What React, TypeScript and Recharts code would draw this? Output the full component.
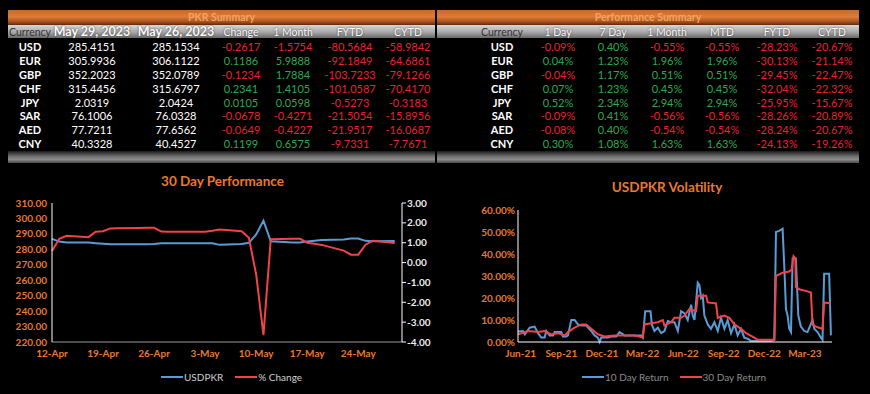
import React from "react";
import { LineChart, Line, XAxis, YAxis, Legend } from "recharts";

// ---- tables ----
const currencies = ["USD", "EUR", "GBP", "CHF", "JPY", "SAR", "AED", "CNY"];

const pkrHeaders = ["Currency", "May 29, 2023", "May 26, 2023", "Change", "1 Month", "FYTD", "CYTD"];
const rateMay29 = [285.4151, 305.9936, 352.2023, 315.4456, 2.0319, 76.1006, 77.7211, 40.3328];
const rateMay26 = [285.1534, 306.1122, 352.0789, 315.6797, 2.0424, 76.0328, 77.6562, 40.4527];
const pkrChange = [-0.2617, 0.1186, -0.1234, 0.2341, 0.0105, -0.0678, -0.0649, 0.1199];
const pkr1Month = [-1.5754, 5.9888, 1.7884, 1.4105, 0.0598, -0.4271, -0.4227, 0.6575];
const pkrFytd = [-80.5684, -92.1849, -103.7233, -101.0587, -0.5273, -21.5054, -21.9517, -9.7331];
const pkrCytd = [-58.9842, -64.6861, -79.1266, -70.417, -0.3183, -15.8956, -16.0687, -7.7671];

const perfHeaders = ["Currency", "1 Day", "7 Day", "1 Month", "MTD", "FYTD", "CYTD"];
const perf1Day = [-0.09, 0.04, -0.04, 0.07, 0.52, -0.09, -0.08, 0.3];
const perf7Day = [0.4, 1.23, 1.17, 1.23, 2.34, 0.41, 0.4, 1.08];
const perf1Month = [-0.55, 1.96, 0.51, 0.45, 2.94, -0.56, -0.54, 1.63];
const perfMtd = [-0.55, 1.96, 0.51, 0.45, 2.94, -0.56, -0.54, 1.63];
const perfFytd = [-28.23, -30.13, -29.45, -32.04, -25.95, -28.26, -28.24, -24.13];
const perfCytd = [-20.67, -21.14, -22.47, -22.32, -15.67, -20.89, -20.67, -19.26];

// ---- 30 day performance (day offset from 12-Apr) ----
const perfDays = [0, 1, 2, 5, 6, 7, 8, 9, 12, 13, 14, 15, 16, 19, 20, 21, 22, 23, 26, 27, 28, 29, 30, 33, 34, 35, 36, 37, 40, 41, 42, 43, 44, 47];
const usdPkr = [286.8, 285.0, 284.4, 284.4, 284.0, 283.6, 283.3, 283.3, 283.3, 283.3, 283.4, 284.0, 284.0, 284.0, 284.0, 284.0, 284.0, 282.9, 283.5, 284.2, 289.7, 298.5, 285.2, 284.5, 284.5, 285.0, 285.6, 286.0, 286.4, 287.0, 287.0, 285.5, 285.2, 285.4];
const pctChange = [0.58, 1.2, 1.35, 1.28, 1.55, 1.58, 1.72, 1.73, 1.74, 1.75, 1.75, 1.56, 1.55, 1.55, 1.55, 1.55, 1.6, 1.67, 1.58, 1.25, -0.6, -3.65, 1.17, 1.2, 1.2, 1.0, 0.95, 0.89, 0.6, 0.4, 0.4, 0.9, 1.1, 0.98];
const perfTickDays = [0, 7, 14, 21, 28, 35, 42];
const perfTickLabels = ["12-Apr", "19-Apr", "26-Apr", "3-May", "10-May", "17-May", "24-May"];

// ---- volatility (month offset from Jun-21) ----
const vol10Months = [-0.2, 0.17, 0.3, 0.66, 1.03, 1.28, 1.52, 1.77, 1.89, 2.14, 2.39, 2.51, 3.0, 3.12, 3.37, 3.49, 3.74, 3.98, 4.23, 4.48, 4.84, 5.21, 5.46, 5.7, 5.83, 5.95, 6.44, 6.69, 7.06, 7.3, 7.67, 8.9, 9.02, 9.2, 9.59, 9.69, 9.88, 10.13, 10.38, 10.62, 10.87, 11.11, 11.36, 11.61, 11.85, 12.1, 12.34, 12.59, 12.71, 12.84, 13.08, 13.2, 13.33, 13.45, 13.57, 13.82, 14.06, 14.31, 14.56, 14.8, 15.05, 15.29, 15.54, 15.79, 16.03, 16.28, 16.52, 16.77, 17.01, 18.49, 18.74, 18.86, 19.1, 19.35, 19.47, 19.6, 19.72, 19.84, 19.97, 20.09, 20.33, 20.51, 20.7, 20.95, 21.19, 21.56, 21.69, 21.93, 22.18, 22.3, 22.42, 22.79, 22.92];
const vol10Values = [4.8, 5, 3.5, 6.5, 7, 4, 2, 2, 5, 3, 3, 4.5, 4.5, 2.5, 2.5, 3, 10, 10, 8, 7.5, 7.5, 5, 3, 2, 0, 2, 2, 2.5, 2.5, 4.5, 3, 3, 2, 14, 14, 8, 5, 6.5, 4, 5, 9.5, 9, 9, 5, 14, 13, 10, 17, 12, 10, 27, 26, 20, 21, 12, 8, 6, 9, 5, 11, 6, 10, 4, 8, 3, 6, 2, 1.5, 0.5, 0.5, 1, 50, 50.5, 51.5, 35, 15, 12, 6, 4.5, 38, 38, 12, 7, 5, 4.5, 10, 6, 4.5, 2, 1, 31, 31, 3];
const vol30Months = [-0.2, 0.54, 1.28, 1.77, 2.26, 2.75, 3.25, 3.49, 3.98, 4.48, 4.84, 5.21, 5.7, 6.2, 6.93, 8.41, 9.02, 9.15, 9.64, 10.13, 10.5, 10.62, 11.11, 11.36, 11.85, 12.1, 12.47, 12.96, 13.08, 13.7, 13.82, 14.43, 14.56, 15.05, 15.42, 15.79, 16.28, 16.65, 17.26, 17.51, 18.74, 18.86, 19.35, 19.84, 20.02, 20.16, 20.29, 20.33, 20.58, 21.19, 21.44, 21.56, 21.81, 22.06, 22.3, 22.42, 22.92];
const vol30Values = [3.5, 5, 4.5, 5, 3.5, 4, 3, 4.5, 6.5, 8, 8, 6, 3.5, 2.5, 3, 3, 2, 8, 8.5, 9, 10, 7.5, 9, 11, 11, 12, 15, 14, 21, 21, 18, 17.5, 11, 12, 11, 8, 6, 4, 2, 1, 1, 30, 31.5, 32, 33, 39, 38, 25, 24, 23, 22.5, 8, 7, 6.5, 6, 18, 17.5];
const volTickMonths = [0, 3, 6, 9, 12, 15, 18, 21];
const volTickLabels = ["Jun-21", "Sep-21", "Dec-21", "Mar-22", "Jun-22", "Sep-22", "Dec-22", "Mar-23"];

const ORANGE = "#E8792F";
const GREEN = "#2DAA4F";
const RED = "#E8242C";
const BLUE = "#5B9BD5";
const LINE_RED = "#F0434A";
const FONT = "Lato, 'Open Sans', sans-serif";

const perfData = perfDays.map((d, i) => ({ day: d, usdpkr: usdPkr[i], change: pctChange[i] }));
const vol10Data = vol10Months.map((m, i) => ({ m, v: vol10Values[i] }));
const vol30Data = vol30Months.map((m, i) => ({ m, v: vol30Values[i] }));

type Cell = { text: string; color: string; bold?: boolean };

const signColor = (v: number) => (v < 0 ? RED : GREEN);

const pkrRows: Cell[][] = currencies.map((c, i) => [
  { text: c, color: "#fff", bold: true },
  { text: rateMay29[i].toFixed(4), color: "#fff" },
  { text: rateMay26[i].toFixed(4), color: "#fff" },
  { text: pkrChange[i].toFixed(4), color: signColor(pkrChange[i]) },
  { text: pkr1Month[i].toFixed(4), color: signColor(pkr1Month[i]) },
  { text: pkrFytd[i].toFixed(4), color: signColor(pkrFytd[i]) },
  { text: pkrCytd[i].toFixed(4), color: signColor(pkrCytd[i]) },
]);

const pct = (v: number) => ({ text: v.toFixed(2) + "%", color: signColor(v) });
const perfRows: Cell[][] = currencies.map((c, i) => [
  { text: c, color: "#fff", bold: true },
  pct(perf1Day[i]),
  pct(perf7Day[i]),
  pct(perf1Month[i]),
  pct(perfMtd[i]),
  pct(perfFytd[i]),
  pct(perfCytd[i]),
]);

const TABLE_TOP = 10;

function SummaryTable(props: {
  left: number;
  width: number;
  title: string;
  headers: string[];
  centers: number[];
  boldHeaders?: number[];
  rows: Cell[][];
}) {
  const { left, width, title, headers, centers, rows, boldHeaders = [] } = props;
  const cell = (x: number, y: number, content: React.ReactNode, style: React.CSSProperties, key: string) => (
    <div
      key={key}
      style={{
        position: "absolute",
        left: x - left - 60,
        top: y - TABLE_TOP - 8,
        width: 120,
        height: 16,
        lineHeight: "16px",
        textAlign: "center",
        whiteSpace: "nowrap",
        ...style,
      }}
    >
      {content}
    </div>
  );
  return (
    <div style={{ position: "absolute", left, top: TABLE_TOP, width, height: 154 }}>
      <div
        style={{
          position: "absolute",
          left: 0,
          top: 0,
          width,
          height: 15,
          background: "linear-gradient(#c86a2c, #dc7c38 45%, #a4501c 80%, #5a2a0c)",
          color: "#f2a468",
          fontSize: 10.5,
          fontWeight: "bold",
          textAlign: "center",
          lineHeight: "15px",
        }}
      >
        {title}
      </div>
      <div
        style={{
          position: "absolute",
          left: 0,
          top: 15,
          width,
          height: 13,
          background: "linear-gradient(#d6d6d6, #a8a8a8 55%, #686868)",
        }}
      />
      {headers.map((h, j) =>
        cell(
          centers[j],
          31.5,
          h,
          {
            color: j === 0 ? "#333333" : "#fafafa",
            fontSize: boldHeaders.includes(j) ? 12.5 : 10.5,
            fontWeight: boldHeaders.includes(j) ? "bold" : "normal",
            textShadow: j === 0 ? "none" : "0 0 2px #333",
          },
          "h" + j
        )
      )}
      {rows.map((r, i) =>
        r.map((c, j) =>
          cell(
            centers[j],
            46.7 + i * 13.95,
            c.text,
            { color: c.color, fontSize: 11, fontWeight: c.bold ? "bold" : "normal" },
            `r${i}c${j}`
          )
        )
      )}
      <div
        style={{
          position: "absolute",
          left: 0,
          top: 141,
          width,
          height: 12,
          background: "linear-gradient(#1a1a1a, #6e6e6e 45%, #8c8c8c 70%, #4a4a4a)",
        }}
      />
    </div>
  );
}

function LegendLine(props: any) {
  const { payload = [], textColor, padLeft, gap, order } = props;
  const items = [...payload].sort((a: any, b: any) => order.indexOf(a.value) - order.indexOf(b.value));
  return (
    <div style={{ display: "flex", alignItems: "center", height: 16, paddingLeft: padLeft, fontSize: 10, color: textColor }}>
      {items.map((e: any, i: number) => (
        <span key={e.value} style={{ display: "flex", alignItems: "center", marginLeft: i ? gap : 0 }}>
          <span style={{ display: "inline-block", width: 22, height: 2.5, background: e.color, marginRight: 1 }} />
          {e.value}
        </span>
      ))}
    </div>
  );
}

function PerformanceChart() {
  return (
    <div style={{ position: "absolute", left: 0, top: 165, width: 435, height: 229 }}>
      <div style={{ position: "absolute", left: 0, width: 445, top: 8, textAlign: "center", color: ORANGE, fontWeight: "bold", fontSize: 13.5 }}>
        30 Day Performance
      </div>
      <LineChart width={435} height={229} data={perfData} margin={{ top: 38, right: 0, left: 0, bottom: 16 }}>
        <XAxis
          dataKey="day"
          type="number"
          domain={[0, 48]}
          ticks={perfTickDays}
          tickFormatter={(v: number) => perfTickLabels[perfTickDays.indexOf(v)]}
          tick={{ fill: ORANGE, fontSize: 10, fontWeight: "bold" }}
          axisLine={{ stroke: "#9a9a9a" }}
          tickLine={false}
          height={20}
          tickMargin={2}
        />
        <YAxis
          yAxisId="left"
          domain={[220, 310]}
          ticks={[220, 230, 240, 250, 260, 270, 280, 290, 300, 310]}
          tickFormatter={(v: number) => v.toFixed(2)}
          tick={{ fill: ORANGE, fontSize: 10, fontWeight: "bold" }}
          axisLine={{ stroke: "#ffffff" }}
          tickLine={false}
          tickSize={3}
          width={52}
          interval={0}
        />
        <YAxis
          yAxisId="right"
          orientation="right"
          domain={[-4, 3]}
          ticks={[-4, -3, -2, -1, 0, 1, 2, 3]}
          tickFormatter={(v: number) => v.toFixed(2)}
          tick={{ fill: "#eeeeee", fontSize: 10, fontWeight: "bold" }}
          axisLine={{ stroke: "#ffffff" }}
          tickLine={{ stroke: "#ffffff" }}
          tickSize={4}
          tickMargin={1}
          width={33}
          interval={0}
        />
        <Legend
          verticalAlign="bottom"
          wrapperStyle={{ left: 0, width: 435, bottom: 9 }}
          content={(p: any) => (
            <LegendLine {...p} textColor="#d0d0d0" padLeft={161} gap={12} order={["USDPKR", "% Change"]} />
          )}
        />
        <Line yAxisId="left" type="linear" dataKey="usdpkr" name="USDPKR" stroke={BLUE} strokeWidth={2} dot={false} isAnimationActive={false} />
        <Line yAxisId="right" type="linear" dataKey="change" name="% Change" stroke={LINE_RED} strokeWidth={2} dot={false} isAnimationActive={false} />
      </LineChart>
    </div>
  );
}

function VolatilityChart() {
  return (
    <div style={{ position: "absolute", left: 435, top: 165, width: 435, height: 229 }}>
      <div style={{ position: "absolute", left: 0, width: 464, top: 14, textAlign: "center", color: ORANGE, fontWeight: "bold", fontSize: 13.5 }}>
        USDPKR Volatility
      </div>
      <LineChart width={435} height={229} margin={{ top: 45, right: 38, left: 0, bottom: 16 }}>
        <XAxis
          dataKey="m"
          type="number"
          domain={[-0.2, 23]}
          ticks={volTickMonths}
          tickFormatter={(v: number) => volTickLabels[volTickMonths.indexOf(v)]}
          tick={{ fill: ORANGE, fontSize: 10, fontWeight: "bold" }}
          axisLine={{ stroke: "#ffffff" }}
          tickLine={false}
          height={20}
          tickMargin={2}
          allowDataOverflow
        />
        <YAxis
          domain={[0, 60]}
          ticks={[0, 10, 20, 30, 40, 50, 60]}
          tickFormatter={(v: number) => v.toFixed(2) + "%"}
          tick={{ fill: ORANGE, fontSize: 10, fontWeight: "bold" }}
          axisLine={{ stroke: "#ffffff" }}
          tickLine={false}
          tickSize={1}
          tickMargin={2}
          width={83}
          interval={0}
        />
        <Legend
          verticalAlign="bottom"
          wrapperStyle={{ left: 0, width: 435, bottom: 9 }}
          content={(p: any) => (
            <LegendLine {...p} textColor="#8c8c8c" padLeft={147} gap={11} order={["10 Day Return", "30 Day Return"]} />
          )}
        />
        <Line data={vol10Data} type="linear" dataKey="v" name="10 Day Return" stroke={BLUE} strokeWidth={2} dot={false} isAnimationActive={false} />
        <Line data={vol30Data} type="linear" dataKey="v" name="30 Day Return" stroke={LINE_RED} strokeWidth={2} dot={false} isAnimationActive={false} />
      </LineChart>
    </div>
  );
}

export default function App() {
  return (
    <div style={{ position: "fixed", left: 0, top: 0, width: 870, height: 394, background: "#000", fontFamily: FONT, overflow: "hidden" }}>
      <SummaryTable
        left={8}
        width={427}
        title="PKR Summary"
        headers={pkrHeaders}
        centers={[30, 92, 176, 241, 293, 350, 408]}
        boldHeaders={[1, 2]}
        rows={pkrRows}
      />
      <SummaryTable
        left={437}
        width={422}
        title="Performance Summary"
        headers={perfHeaders}
        centers={[502, 558, 613, 667, 722, 777, 832]}
        rows={perfRows}
      />
      <PerformanceChart />
      <VolatilityChart />
    </div>
  );
}
